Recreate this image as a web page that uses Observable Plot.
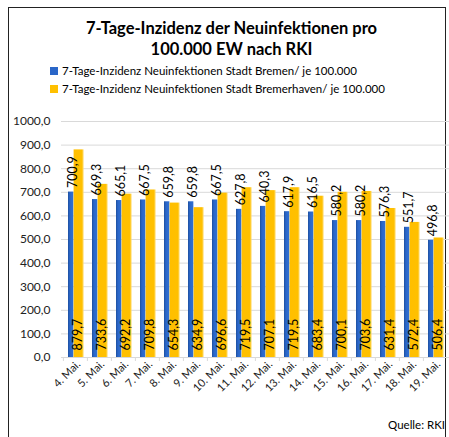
<!DOCTYPE html>
<html>
<head>
<meta charset="utf-8">
<script src="https://cdn.jsdelivr.net/npm/d3@7"></script>
<script src="https://cdn.jsdelivr.net/npm/@observablehq/plot@0.6"></script>
<style>
  html, body { margin: 0; padding: 0; background: #fff; }
  #wrap { position: relative; width: 449px; height: 437px; overflow: hidden; font-family: Lato, "Liberation Sans", sans-serif; color: #000; }
  #frame { position: absolute; left: 8px; top: 7px; width: 438px; height: 440px; border: 1.5px solid #222; box-sizing: border-box; }
  #title { position: absolute; left: 14px; width: 435px; top: 18px; text-align: center; font-weight: bold; font-size: 16.5px; line-height: 21px; }
  #legend { position: absolute; left: 50px; top: 62px; font-size: 11.5px; line-height: 18px; }
  #legend .row { display: flex; align-items: center; white-space: nowrap; }
  #legend .sw { width: 8px; height: 8px; margin-right: 4px; }
  #chart { position: absolute; left: 0; top: 100px; }
  #caption { position: absolute; right: 4px; top: 418px; font-size: 11.5px; }
</style>
</head>
<body>
<div id="wrap">
  <div id="frame"></div>
  <div id="title">7-Tage-Inzidenz der Neuinfektionen pro<br>100.000 EW nach RKI</div>
  <div id="legend"></div>
  <div id="chart"></div>
  <div id="caption">Quelle: RKI</div>
</div>
<script>
const dates = ["4. Mai.","5. Mai.","6. Mai.","7. Mai.","8. Mai.","9. Mai.","10. Mai.","11. Mai.","12. Mai.","13. Mai.","14. Mai.","15. Mai.","16. Mai.","17. Mai.","18. Mai.","19. Mai."];
const bremen = [700.9,669.3,665.1,667.5,659.8,659.8,667.5,627.8,640.3,617.9,616.5,580.2,580.2,576.3,551.7,496.8];
const bremerhaven = [879.7,733.6,692.2,709.8,654.3,634.9,696.6,719.5,707.1,719.5,683.4,700.1,703.6,631.4,572.4,506.4];
const seriesNames = ["7-Tage-Inzidenz Neuinfektionen Stadt Bremen/ je 100.000", "7-Tage-Inzidenz Neuinfektionen Stadt Bremerhaven/ je 100.000"];
const seriesColors = ["#2a66c8", "#ffc000"];
const yTicks = [0,100,200,300,400,500,600,700,800,900,1000];

const fmt = v => v.toFixed(1).replace(".", ",");
const rows = dates.map((d, i) => ({date: d, bremen: bremen[i], bremerhaven: bremerhaven[i]}));

// legend
const leg = document.getElementById("legend");
seriesNames.forEach((n, i) => {
  const r = document.createElement("div"); r.className = "row";
  const s = document.createElement("span"); s.className = "sw"; s.style.background = seriesColors[i];
  const t = document.createElement("span"); t.textContent = n;
  r.appendChild(s); r.appendChild(t); leg.appendChild(r);
});

const W = 449, H = 300, ML = 61, MR = 0;
const bw = (W - ML - MR) / dates.length;

const plot = Plot.plot({
  width: W, height: H,
  marginLeft: ML, marginRight: MR, marginTop: 21, marginBottom: 43,
  style: {fontFamily: "Lato, 'Liberation Sans', sans-serif", background: "transparent", color: "#000"},
  x: {type: "band", domain: dates, padding: 0, label: null},
  y: {domain: [0, 1000], label: null},
  marks: [
    Plot.gridY(yTicks, {stroke: "#d9d9d9", strokeOpacity: 1}),
    Plot.axisY(yTicks, {tickSize: 0, tickPadding: 11, fontSize: 12, tickFormat: fmt, fill: "#222", label: null}),
    Plot.ruleY([0], {stroke: "#d9d9d9"}),
    Plot.axisX({tickSize: 4, stroke: "#d9d9d9", text: null, dx: -bw / 2, label: null}),
    Plot.axisX({tickSize: 0, tickRotate: -45, tickPadding: 5, fontSize: 11, dx: 3, fill: "#222", label: null}),
    Plot.barY(rows, {x: "date", y: "bremen", fill: "url(#gBlue)", insetLeft: 5, insetRight: bw - 10.6}),
    Plot.barY(rows, {x: "date", y: "bremerhaven", fill: "url(#gYellow)", insetLeft: 10.6, insetRight: bw - 20.8}),
    Plot.text(rows, {x: "date", y: "bremen", text: d => fmt(d.bremen), rotate: -90, textAnchor: "start", dx: -2.6, dy: -4, fontSize: 12.5, fill: "#000"}),
    Plot.text(rows, {x: "date", y: 0, text: d => fmt(d.bremerhaven), rotate: -90, textAnchor: "start", dx: 2.4, dy: -7, fontSize: 12.5, fill: "#000"})
  ]
});

// gradients for the Excel-style shaded bars
const ns = "http://www.w3.org/2000/svg";
const defs = document.createElementNS(ns, "defs");
defs.innerHTML = `
  <linearGradient id="gBlue" x1="0" x2="1" y1="0" y2="0">
    <stop offset="0" stop-color="#1d4f9e"/>
    <stop offset="0.35" stop-color="#2a66c8"/>
    <stop offset="1" stop-color="#3070d4"/>
  </linearGradient>
  <linearGradient id="gYellow" x1="0" x2="1" y1="0" y2="0">
    <stop offset="0" stop-color="#ffbf00"/>
    <stop offset="0.8" stop-color="#ffc000"/>
    <stop offset="1" stop-color="#ffd966"/>
  </linearGradient>`;
plot.insertBefore(defs, plot.firstChild);
document.getElementById("chart").appendChild(plot);
</script>
</body>
</html>
